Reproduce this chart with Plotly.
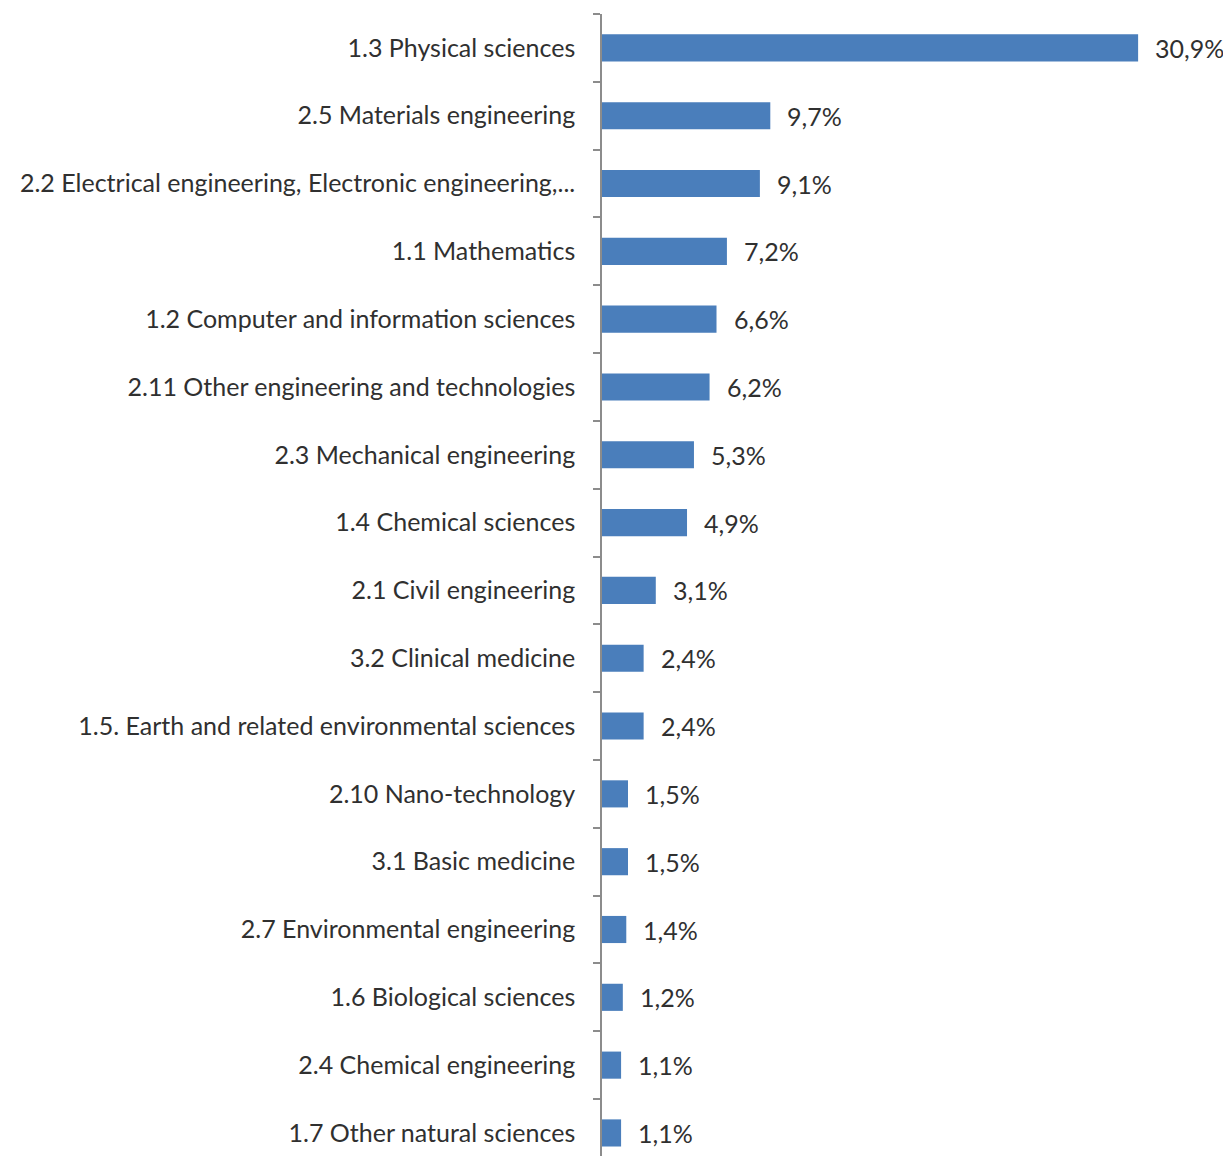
import plotly.graph_objects as go

categories = [
    "1.3 Physical sciences",
    "2.5 Materials engineering",
    "2.2 Electrical engineering, Electronic engineering,...",
    "1.1 Mathematics",
    "1.2 Computer and information sciences",
    "2.11 Other engineering and technologies",
    "2.3 Mechanical engineering",
    "1.4 Chemical sciences",
    "2.1 Civil engineering",
    "3.2 Clinical medicine",
    "1.5. Earth and related environmental sciences",
    "2.10 Nano-technology",
    "3.1 Basic medicine",
    "2.7 Environmental engineering",
    "1.6 Biological sciences",
    "2.4 Chemical engineering",
    "1.7 Other natural sciences",
]
values = [30.9, 9.7, 9.1, 7.2, 6.6, 6.2, 5.3, 4.9, 3.1, 2.4, 2.4, 1.5, 1.5, 1.4, 1.2, 1.1, 1.1]
value_labels = [f"{v:.1f}%".replace(".", ",") for v in values]

FONT = "Lato"
TXT = "#303030"
FS = 25

fig = go.Figure(go.Bar(
    x=values, y=categories, orientation="h",
    marker=dict(color="#4a7ebb", line=dict(width=0)),
    width=0.4,
))

for c, v, lab in zip(categories, values, value_labels):
    fig.add_annotation(x=v, y=c, text=lab, showarrow=False, xanchor="left",
                       xshift=15, font=dict(family=FONT, size=FS, color=TXT))

fig.update_layout(
    width=1223, height=1148,
    margin=dict(l=594, r=0, t=6, b=0),
    plot_bgcolor="white", paper_bgcolor="white",
    showlegend=False,
)
fig.update_xaxes(range=[0, 629 / 17.35], visible=False, showgrid=False, zeroline=False)
fig.update_yaxes(
    type="category", categoryorder="array", categoryarray=categories,
    range=[16.34, -0.5],
    showline=True, linecolor="#8c8c8c", linewidth=1.5,
    ticks="outside", ticklen=7, tickcolor="#8c8c8c", tickwidth=1.5,
    tickson="boundaries", ticklabelstandoff=20,
    showgrid=False, zeroline=False,
    tickfont=dict(family=FONT, size=FS, color=TXT),
    automargin=False,
)

fig.write_html("out.html")
